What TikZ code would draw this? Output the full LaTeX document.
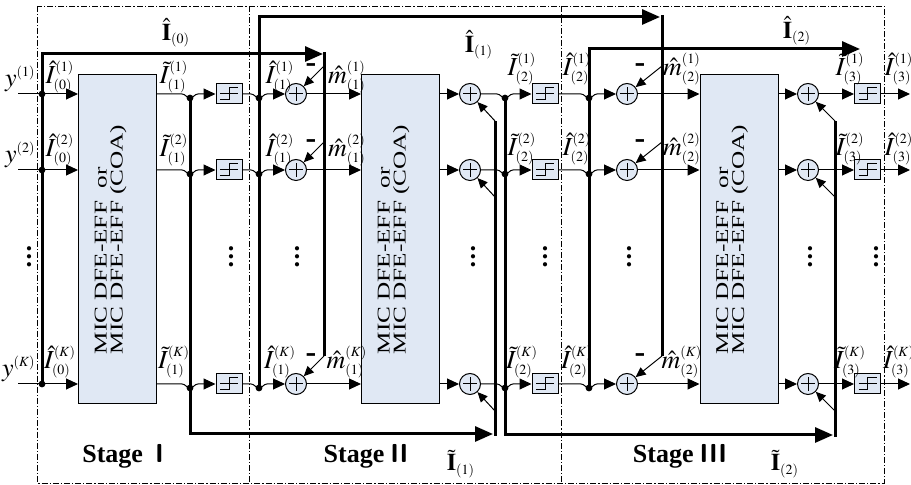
\documentclass[tikz,border=0pt]{standalone}
\usepackage{mathptmx}
\usepackage[no-math]{fontspec}
\setmainfont{Liberation Serif}
\usetikzlibrary{arrows.meta,calc}
\DeclareMathSizes{13}{13}{7}{5}
\DeclareMathSizes{12}{12}{7}{5}
\definecolor{boxblue}{RGB}{224,232,244}
\tikzset{
  bus/.style={line width=1.5pt},
  sig/.style={line width=0.5pt},
  arr/.style={-{Triangle[length=6pt,width=5.5pt]}},
  farr/.style={-{Triangle[length=5pt,width=4.5pt]}},
  busarr/.style={-{Triangle[length=9pt,width=7.5pt]}},
  micbox/.style={draw, fill=boxblue, line width=0.5pt, minimum width=39pt, minimum height=164.5pt, inner sep=0pt},
  boxtext/.style={rotate=90, xscale=1.4, align=left, font=\fontsize{9}{8}\selectfont, inner sep=0pt},
  adder/.style={circle, draw, fill=boxblue, line width=0.5pt, minimum size=10.5pt, inner sep=0pt,
    path picture={
      \draw[line width=0.5pt] ([xshift=-3.3pt]path picture bounding box.center) -- ([xshift=3.3pt]path picture bounding box.center);
      \draw[line width=0.5pt] ([yshift=-3.3pt]path picture bounding box.center) -- ([yshift=3.3pt]path picture bounding box.center);}},
  quant/.style={draw, fill=boxblue, line width=0.5pt, minimum width=13pt, minimum height=10pt, inner sep=0pt,
    path picture={
      \draw[line width=0.5pt] ([xshift=-4.5pt]path picture bounding box.center) -- ([xshift=4.5pt]path picture bounding box.center);
      \draw[line width=0.5pt] ([shift={(-4.5pt,-3pt)}]path picture bounding box.center) -- ++(4.5pt,0) -- ++(0,6pt) -- ++(4.5pt,0);}},
  lbl/.style={inner sep=0pt, font=\fontsize{13}{13}\selectfont},
  blbl/.style={inner sep=0pt, font=\fontsize{12}{12}\selectfont},
  stagelbl/.style={inner sep=0pt, font=\bfseries\fontsize{13}{13}\selectfont},
  minussign/.style={inner sep=0pt, font=\bfseries\fontsize{16}{16}\selectfont},
  dotsnode/.style={inner sep=0pt, font=\bfseries\fontsize{13}{13}\selectfont},
  stageframe/.style={line width=0.4pt, dash pattern=on 3pt off 1pt on 0.6pt off 1pt}
}
\begin{document}
\begin{tikzpicture}[x=0.5pt, y=-0.5pt]
\useasboundingbox (0,0) rectangle (911,485);
% stage frames
\draw[stageframe] (37,6) rectangle (884,483);
\draw[stageframe] (249,6) -- (249,483);
\draw[stageframe] (561,6) -- (561,483);

% MIC blocks
\node[micbox] (mic1) at (117.5,239.5) {};
\node[micbox] (mic2) at (400.5,239.5) {};
\node[micbox] (mic3) at (739,239.5) {};
\foreach \m in {1,2,3}
  \node[boxtext] (t\m) at ($(mic\m.center)+(-7,0)$) {MIC DFE-EFF\ \ or\\MIC DFE-EFF (COA)};

% rows
\foreach \r/\yy/\k/\da/\db in {1/94/1/17/25, 2/170/2/20/21, 3/384/K/22/22}{
  % stage I
  \coordinate (in\r) at (18,\yy);
  \coordinate (ji\r) at (42,\yy);
  \coordinate (jt\r) at (190,\yy+4);
  \node[quant] (qa\r) at (229,\yy) {};
  % stage II
  \coordinate (jb\r) at (259,\yy+4);
  \node[adder] (aa\r) at (296,\yy) {};
  \node[adder] (ab\r) at (470,\yy) {};
  \coordinate (jc\r) at (505,\yy+4);
  \node[quant] (qb\r) at (545,\yy) {};
  % stage III
  \coordinate (jd\r) at (589,\yy+4);
  \node[adder] (ac\r) at (627,\yy) {};
  \node[adder] (ad\r) at (808,\yy) {};
  \node[quant] (qc\r) at (867.5,\yy) {};
  \coordinate (out\r) at (910,\yy);
  % feedback taps
  \coordinate (fa\r) at (324,\yy-28);
  \coordinate (fb\r) at (495,\yy+27);
  \coordinate (fc\r) at (662,\yy-28);
  \coordinate (fd\r) at (835,\yy+27);

  \draw[sig,arr] (in\r) -- (mic1.west |- in\r);
  \draw[sig,arr] (mic1.east |- in\r) -- ($(jt\r)+(-8,-4)$) to[out=0,in=180] (jt\r) to[out=0,in=180] ($(jt\r)+(8,-4)$) -- (qa\r);
  \draw[sig,arr] (qa\r) -- ($(jb\r)+(-8,-4)$) to[out=0,in=180] (jb\r) to[out=0,in=180] ($(jb\r)+(8,-4)$) -- (aa\r);
  \draw[sig,arr] (aa\r) -- (mic2.west |- in\r);
  \draw[sig,arr] (mic2.east |- in\r) -- (ab\r);
  \draw[sig,arr] (ab\r) -- ($(jc\r)+(-8,-4)$) to[out=0,in=180] (jc\r) to[out=0,in=180] ($(jc\r)+(8,-4)$) -- (qb\r);
  \draw[sig,arr] (qb\r) -- ($(jd\r)+(-8,-4)$) to[out=0,in=180] (jd\r) to[out=0,in=180] ($(jd\r)+(8,-4)$) -- (ac\r);
  \draw[sig,arr] (ac\r) -- (mic3.west |- in\r);
  \draw[sig,arr] (mic3.east |- in\r) -- (ad\r);
  \draw[sig,arr] (ad\r) -- (qc\r);
  \draw[sig,arr] (qc\r) -- (out\r);
  % feedback arrows
  \draw[sig,farr] (fa\r) -- (aa\r);
  \draw[sig,farr] (fb\r) -- (ab\r);
  \draw[sig,farr] (fc\r) -- (ac\r);
  \draw[sig,farr] (fd\r) -- (ad\r);
  \node[minussign] (ma\r) at (311,\yy-26) {-};
  \node[minussign] (mc\r) at (640,\yy-26) {-};

  % labels
  \node[lbl, anchor=east] (y\r) at (36,\yy-15) {$y^{(\k)}$};
  \node[lbl] (la\r) at (60,\yy-\da) {$\hat{I}^{(\k)}_{(0)}$};
  \node[lbl] (lb\r) at (174,\yy-\da) {$\tilde{I}^{(\k)}_{(1)}$};
  \node[lbl] (lc\r) at (280,\yy-\da) {$\hat{I}^{(\k)}_{(1)}$};
  \node[lbl] (ld\r) at (347,\yy-\da) {$\hat{m}^{(\k)}_{(1)}$};
  \node[lbl] (le\r) at (522,\yy-\db) {$\tilde{I}^{(\k)}_{(2)}$};
  \node[lbl] (lf\r) at (577,\yy-\db) {$\hat{I}^{(\k)}_{(2)}$};
  \node[lbl] (lg\r) at (682,\yy-\db) {$\hat{m}^{(\k)}_{(2)}$};
  \node[lbl] (lh\r) at (850,\yy-\db) {$\tilde{I}^{(\k)}_{(3)}$};
  \node[lbl] (li\r) at (899,\yy-\db) {$\hat{I}^{(\k)}_{(3)}$};
}

% buses
\coordinate (hatA) at (323,54);
\coordinate (hatB) at (660,17);
\coordinate (hatC) at (860,49);
\coordinate (tilA) at (493,434);
\coordinate (tilB) at (833,435);
\draw[bus,busarr] (ji3) |- (hatA);
\draw[bus,busarr] (jt1) |- (tilA);
\draw[bus,busarr] (jb3) |- (hatB);
\draw[bus,busarr] (jc1) |- (tilB);
\draw[bus,busarr] (jd3) |- (hatC);
% feedback rails
\coordinate (ra) at (324,52.5);
\coordinate (rb) at (495,436);
\coordinate (rc) at (662,15.5);
\coordinate (rd) at (835,437);
\draw[bus] (ra) -- (fa3);
\draw[bus] (rb) -- (fb1);
\draw[bus] (rc) -- (fc3);
\draw[bus] (rd) -- (fd1);
\foreach \r in {1,2,3}{
  \fill (ji\r) circle (1.7pt);
  \fill (jt\r) circle (1.7pt);
  \fill (jb\r) circle (1.7pt);
  \fill (jc\r) circle (1.7pt);
  \fill (jd\r) circle (1.7pt);
}

% vertical dots
\foreach \x [count=\i] in {29,231,297,473,545,629,810,876}
  \node[dotsnode] (dots\i) at (\x,251) {\vdots};

% bus labels
\node[blbl] (Ihat0) at (176,33) {$\hat{\mathbf{I}}_{(0)}$};
\node[blbl] (Ihat1) at (479,45) {$\hat{\mathbf{I}}_{(1)}$};
\node[blbl] (Ihat2) at (797,31) {$\hat{\mathbf{I}}_{(2)}$};
\node[blbl] (Itil1) at (461,464) {$\tilde{\mathbf{I}}_{(1)}$};
\node[blbl] (Itil2) at (785,464) {$\tilde{\mathbf{I}}_{(2)}$};

% stage names
\node[stagelbl] (st1) at (123,456) {Stage\hspace{6pt}{\sffamily I}};
\node[stagelbl] (st2) at (366,456) {Stage\hspace{3pt}{\sffamily II}};
\node[stagelbl] (st3) at (680,456) {Stage\hspace{3pt}{\sffamily III}};
\end{tikzpicture}
\end{document}
